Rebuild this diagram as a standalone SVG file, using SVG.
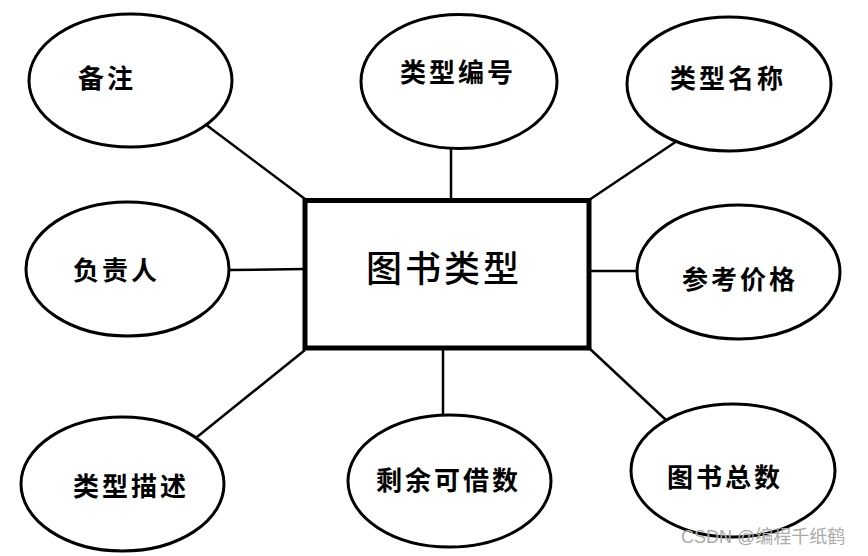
<svg xmlns="http://www.w3.org/2000/svg" width="868" height="556" viewBox="0 0 868 556">
<style>
.attr{fill:#fff;stroke:#000;stroke-width:3}
.lbl{font-family:"Noto Sans CJK SC","Noto Sans",sans-serif;font-size:26px;font-weight:bold;letter-spacing:3px;fill:#000}
.ent{fill:#fff;stroke:#000;stroke-width:5}
.elbl{font-family:"Noto Sans CJK SC","Noto Sans",sans-serif;font-size:36px;font-weight:500;letter-spacing:3px;fill:#000}
.conn line{stroke:#000;stroke-width:2.5}
.wm{font-family:"Liberation Sans","Noto Sans CJK SC",sans-serif;font-size:18px;fill:#aaa}
</style>
<rect width="868" height="556" fill="#fff"/>
<g class="conn" id="connectors">
<line x1="205" y1="124" x2="305" y2="199"/>
<line x1="451" y1="149" x2="451" y2="200"/>
<line x1="677" y1="141" x2="589" y2="200"/>
<line x1="229" y1="270" x2="305" y2="269"/>
<line x1="589" y1="271" x2="637" y2="271"/>
<line x1="305" y1="350" x2="197" y2="437"/>
<line x1="443" y1="348" x2="443" y2="414"/>
<line x1="589" y1="348" x2="666" y2="420"/>
</g>
<g id="entity">
<rect class="ent" x="305" y="200.5" width="284" height="147.5"/>
<text class="elbl" x="366" y="282">图书类型</text>
</g>
<g id="beizhu">
<ellipse class="attr" cx="130.5" cy="80.5" rx="101.5" ry="66.5"/>
<text class="lbl" x="78" y="88">备注</text>
</g>
<g id="leixingbianhao">
<ellipse class="attr" cx="459" cy="81.5" rx="98" ry="67"/>
<text class="lbl" x="400" y="82">类型编号</text>
</g>
<g id="leixingmingcheng">
<ellipse class="attr" cx="729" cy="84" rx="102" ry="67"/>
<text class="lbl" x="670" y="88">类型名称</text>
</g>
<g id="fuzeren">
<ellipse class="attr" cx="127.5" cy="269" rx="101.5" ry="67"/>
<text class="lbl" x="73" y="280">负责人</text>
</g>
<g id="cankaojiage">
<ellipse class="attr" cx="738.5" cy="272" rx="101.5" ry="67"/>
<text class="lbl" x="682" y="289">参考价格</text>
</g>
<g id="leixingmiaoshu">
<ellipse class="attr" cx="122.5" cy="484" rx="101.5" ry="67"/>
<text class="lbl" x="73" y="496">类型描述</text>
</g>
<g id="shengyukejieshu">
<ellipse class="attr" cx="449.5" cy="481" rx="101.5" ry="66"/>
<text class="lbl" x="376" y="490">剩余可借数</text>
</g>
<g id="tushuzongshu">
<ellipse class="attr" cx="733" cy="470.5" rx="102" ry="66.5"/>
<text class="lbl" x="667" y="487">图书总数</text>
</g>
<text class="wm" x="681" y="543">CSDN @编程千纸鹤</text>
</svg>
